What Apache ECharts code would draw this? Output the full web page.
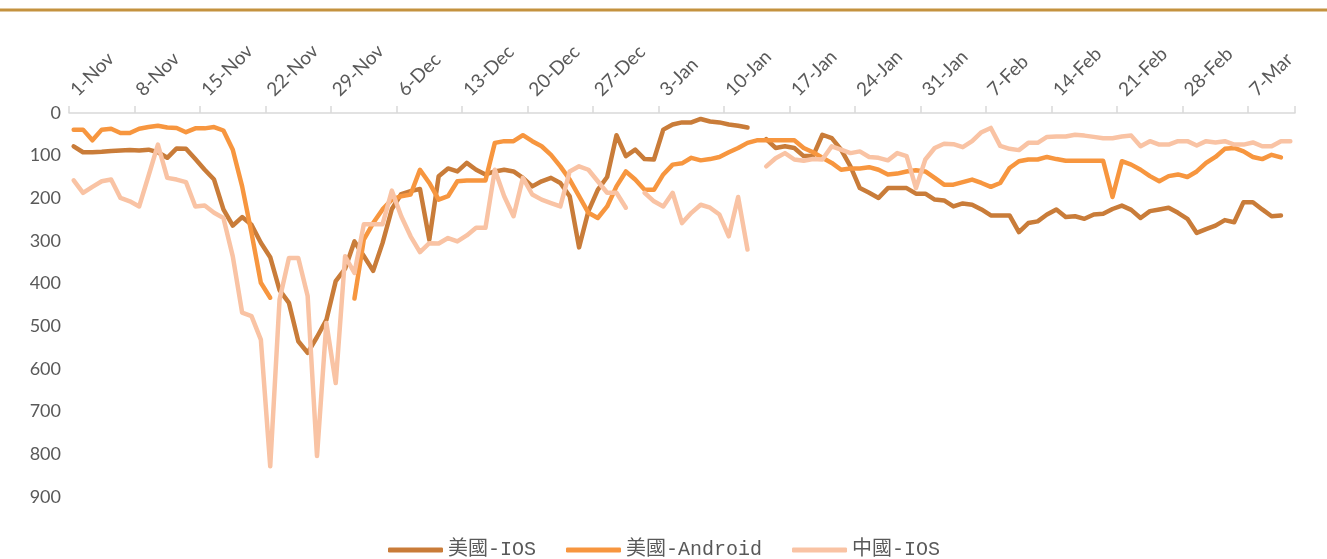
<!DOCTYPE html>
<html>
<head>
<meta charset="utf-8">
<script src="https://cdn.jsdelivr.net/npm/echarts@6/dist/echarts.min.js"></script>
<style>
  html, body { margin: 0; padding: 0; background: #fff; }
  #chart { width: 1327px; height: 559px; }
</style>
</head>
<body>
<div id="chart"></div>
<script>
// daily categories, 1-Nov .. 11-Mar
const startDate = Date.UTC(2020, 10, 1);
const dayCount = 131;
const monthNames = ["Jan", "Feb", "Mar", "Apr", "May", "Jun", "Jul", "Aug", "Sep", "Oct", "Nov", "Dec"];
const dates = [];
for (let i = 0; i < dayCount; i++) {
  const d = new Date(startDate + i * 86400000);
  dates.push(d.getUTCDate() + "-" + monthNames[d.getUTCMonth()]);
}

const seriesNames = ["美國-IOS", "美國-Android", "中國-IOS"];

const usIOS = [
  78, 92, 92, 91, 89, 88, 87, 88, 86, 92,
  105, 83, 84, 108, 133, 156, 226, 264, 244, 262,
  304, 338, 415, 445, 535, 562, 525, 485, 394, 365,
  301, 335, 370, 305, 225, 190, 183, 178, 297, 148,
  130, 137, 117, 133, 144, 137, 133, 137, 152, 172,
  160, 152, 164, 195, 315, 230, 180, 150, 52, 101,
  86, 108, 109, 39, 27, 22, 22, 14, 20, 22,
  27, 30, 34, null, 61, 82, 78, 82, 101, 101,
  51, 59, 86, 125, 176, 187, 199, 176, 176, 176,
  189, 189, 203, 205, 219, 212, 215, 226, 240, 240,
  240, 279, 258, 254, 238, 226, 244, 242, 248, 238,
  236, 225, 217, 227, 246, 230, 226, 222, 234, 248,
  281, 272, 264, 251, 256, 209, 209, 226, 242, 240,
  null
];

const usAndroid = [
  39, 39, 64, 39, 37, 47, 47, 37, 33, 30,
  34, 35, 45, 36, 36, 33, 41, 86, 172, 281,
  398, 433, null, null, null, null, null, null, null, null,
  435, 297, 258, 226, 203, 195, 191, 133, 164, 203,
  195, 160, 158, 158, 158, 70, 66, 66, 52, 66,
  78, 98, 125, 156, 195, 234, 246, 219, 172, 137,
  156, 180, 180, 144, 121, 118, 105, 111, 108, 103,
  92, 82, 70, 64, 64, 64, 64, 64, 82, 92,
  105, 117, 133, 130, 130, 127, 133, 144, 142, 137,
  134, 137, 152, 168, 168, 162, 156, 164, 173, 164,
  129, 113, 109, 109, 103, 108, 112, 112, 112, 112,
  112, 197, 113, 121, 133, 148, 160, 148, 144, 150,
  137, 117, 103, 84, 82, 90, 103, 108, 98, 104,
  null
];

const cnIOS = [
  158, 187, 173, 160, 156, 199, 207, 219, 147, 74,
  152, 156, 162, 219, 217, 234, 246, 336, 468, 476,
  531, 828, 437, 340, 340, 429, 804, 492, 633, 336,
  375, 261, 261, 261, 182, 242, 289, 326, 305, 306,
  293, 301, 287, 269, 269, 133, 195, 242, 152, 191,
  203, 211, 219, 137, 125, 133, 160, 187, 187, 222,
  null, 187, 207, 219, 187, 258, 234, 215, 222, 238,
  289, 197, 320, null, 125, 106, 94, 109, 112, 108,
  109, 78, 86, 94, 90, 103, 105, 111, 94, 101,
  176, 109, 82, 72, 73, 80, 66, 45, 35, 77,
  84, 87, 70, 70, 56, 55, 55, 51, 53, 56,
  59, 59, 55, 53, 78, 66, 74, 74, 66, 66,
  76, 66, 69, 66, 74, 74, 69, 78, 78, 66,
  66
];

const seriesColors = ["#C97C39", "#F7963F", "#F9C3A4"];

const chart = echarts.init(document.getElementById("chart"));

function lineSeries(name, data, color) {
  return {
    name: name,
    type: "line",
    data: data,
    symbol: "none",
    connectNulls: false,
    color: color,
    lineStyle: { width: 4.5, color: color, cap: "round", join: "round" },
    emphasis: { disabled: true },
  };
}

chart.setOption({
  animation: false,
  backgroundColor: "#ffffff",
  graphic: [
    {
      type: "rect",
      left: 0,
      top: 8.5,
      shape: { width: 1327, height: 3 },
      style: { fill: "#C4923F" },
    },
  ],
  grid: {
    left: 69,
    right: 32,
    top: 113,
    bottom: 62,
  },
  legend: {
    data: seriesNames.map((n) => ({ name: n, icon: "roundRect" })),
    left: 383,
    top: 535,
    itemWidth: 55,
    itemHeight: 5,
    itemGap: 30,
    textStyle: {
      color: "#595959",
      fontSize: 20,
      fontFamily: "'Liberation Mono', 'Noto Sans CJK TC', monospace",
    },
  },
  xAxis: {
    type: "category",
    position: "top",
    data: dates,
    boundaryGap: true,
    axisLine: { lineStyle: { color: "#D9D9D9", width: 1.5 } },
    axisTick: {
      show: true,
      interval: 6,
      length: 7,
      lineStyle: { color: "#D9D9D9", width: 1.5 },
    },
    axisLabel: {
      interval: 6,
      rotate: 45,
      margin: 20,
      color: "#595959",
      fontSize: 19,
      fontFamily: "Lato",
    },
    splitLine: { show: false },
  },
  yAxis: {
    type: "value",
    inverse: true,
    min: 0,
    max: 900,
    interval: 100,
    axisLine: { show: false },
    axisTick: { show: false },
    splitLine: { show: false },
    axisLabel: {
      color: "#595959",
      fontSize: 18,
      fontFamily: "Lato",
      margin: 8,
    },
  },
  series: [
    lineSeries(seriesNames[0], usIOS, seriesColors[0]),
    lineSeries(seriesNames[1], usAndroid, seriesColors[1]),
    lineSeries(seriesNames[2], cnIOS, seriesColors[2]),
  ],
});
</script>
</body>
</html>
